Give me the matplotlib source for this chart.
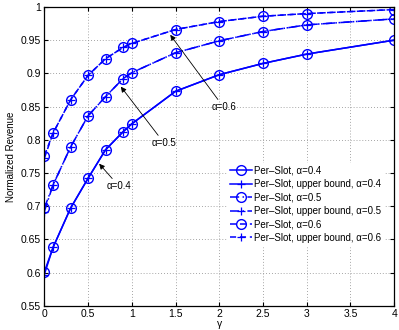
import matplotlib
matplotlib.use("Agg")
import matplotlib.pyplot as plt

# Values
GAMMA = [0, 0.1, 0.3, 0.5, 0.7, 0.9, 1, 1.5, 2, 2.5, 3, 4]

SLOT_04 = [0.601, 0.638, 0.697, 0.742, 0.785, 0.812, 0.824, 0.873, 0.898, 0.915, 0.929, 0.950]
UPPER_04 = [0.597, 0.638, 0.697, 0.742, 0.785, 0.812, 0.824, 0.873, 0.898, 0.915, 0.929, 0.950]
SLOT_05 = [0.697, 0.732, 0.789, 0.836, 0.865, 0.892, 0.901, 0.931, 0.949, 0.963, 0.973, 0.982]
UPPER_05 = [0.692, 0.732, 0.789, 0.836, 0.865, 0.892, 0.901, 0.931, 0.949, 0.963, 0.973, 0.982]
SLOT_06 = [0.776, 0.810, 0.860, 0.897, 0.922, 0.939, 0.945, 0.966, 0.978, 0.986, 0.990, 0.996]
UPPER_06 = [0.772, 0.810, 0.860, 0.897, 0.922, 0.939, 0.945, 0.966, 0.978, 0.986, 0.990, 0.996]

LABELS = ["Per\u2013Slot, \u03b1=0.4", "Per\u2013Slot, upper bound, \u03b1=0.4",
          "Per\u2013Slot, \u03b1=0.5", "Per\u2013Slot, upper bound, \u03b1=0.5",
          "Per\u2013Slot, \u03b1=0.6", "Per\u2013Slot, upper bound, \u03b1=0.6"]

X_TICKS = [0, 0.5, 1, 1.5, 2, 2.5, 3, 3.5, 4]
Y_TICKS = [0.55, 0.6, 0.65, 0.7, 0.75, 0.8, 0.85, 0.9, 0.95, 1]

plt.rcParams["font.family"] = ["Liberation Sans", "DejaVu Sans"]
plt.rcParams["font.size"] = 7.5

fig = plt.figure(figsize=(3.99, 3.30), dpi=100)
ax = fig.add_axes([0.111, 0.073, 0.877, 0.906])

BLUE = (0, 0, 1)
DASHDOT = (0, (6, 2.2, 1, 2.2))
DASHED = (0, (4, 2.5))
styles = ["-", "-", DASHDOT, DASHDOT, DASHED, DASHED]
series = [SLOT_04, UPPER_04, SLOT_05, UPPER_05, SLOT_06, UPPER_06]

for i in range(len(series)):
    if i % 2 == 0:
        ax.plot(GAMMA, series[i], color=BLUE, linestyle=styles[i], lw=1.1,
                marker="o", markersize=7, markerfacecolor="none",
                markeredgewidth=1.0, label=LABELS[i])
    else:
        ax.plot(GAMMA, series[i], color=BLUE, linestyle=styles[i], lw=1.1,
                marker="+", markersize=6, markeredgewidth=0.9, label=LABELS[i])

ax.set_xlim(0, 4)
ax.set_ylim(0.55, 1)
ax.set_xticks(X_TICKS)
ax.set_yticks(Y_TICKS)
ax.set_xticklabels(["%g" % t for t in X_TICKS])
ax.set_yticklabels(["%g" % t for t in Y_TICKS])
ax.tick_params(direction="in", top=True, right=True, length=3, width=0.8,
               labelsize=7.5, colors="black", pad=2.5)
ax.grid(True, linestyle=(0, (1, 2.5)), color="#888888", lw=0.6)
for s in ax.spines.values():
    s.set_linewidth(0.9)

ax.set_xlabel("\u03b3", fontsize=7.5, labelpad=0)
ax.set_ylabel("Normalized Revenue", fontsize=7, labelpad=3)

# arrows with text
arrow = dict(arrowstyle="-|>", color="black", lw=0.6, mutation_scale=8,
             shrinkA=0, shrinkB=0)
ax.annotate("\u03b1=0.4", xy=(0.627, 0.764), xytext=(0.855, 0.730),
            ha="center", va="center", fontsize=7, arrowprops=arrow)
ax.annotate("\u03b1=0.5", xy=(0.875, 0.880), xytext=(1.37, 0.795),
            ha="center", va="center", fontsize=7, arrowprops=arrow)
ax.annotate("\u03b1=0.6", xy=(1.44, 0.958), xytext=(2.05, 0.849),
            ha="center", va="center", fontsize=7, arrowprops=arrow)

leg = ax.legend(loc="lower right", bbox_to_anchor=(0.985, 0.185), fontsize=7,
                frameon=True, handlelength=2.3, handletextpad=0.2,
                labelspacing=0.35, borderpad=0.3)
leg.get_frame().set_edgecolor("white")
leg.get_frame().set_alpha(1)
leg.get_frame().set_boxstyle("square", pad=0)

fig.savefig("out.png", dpi=100)
